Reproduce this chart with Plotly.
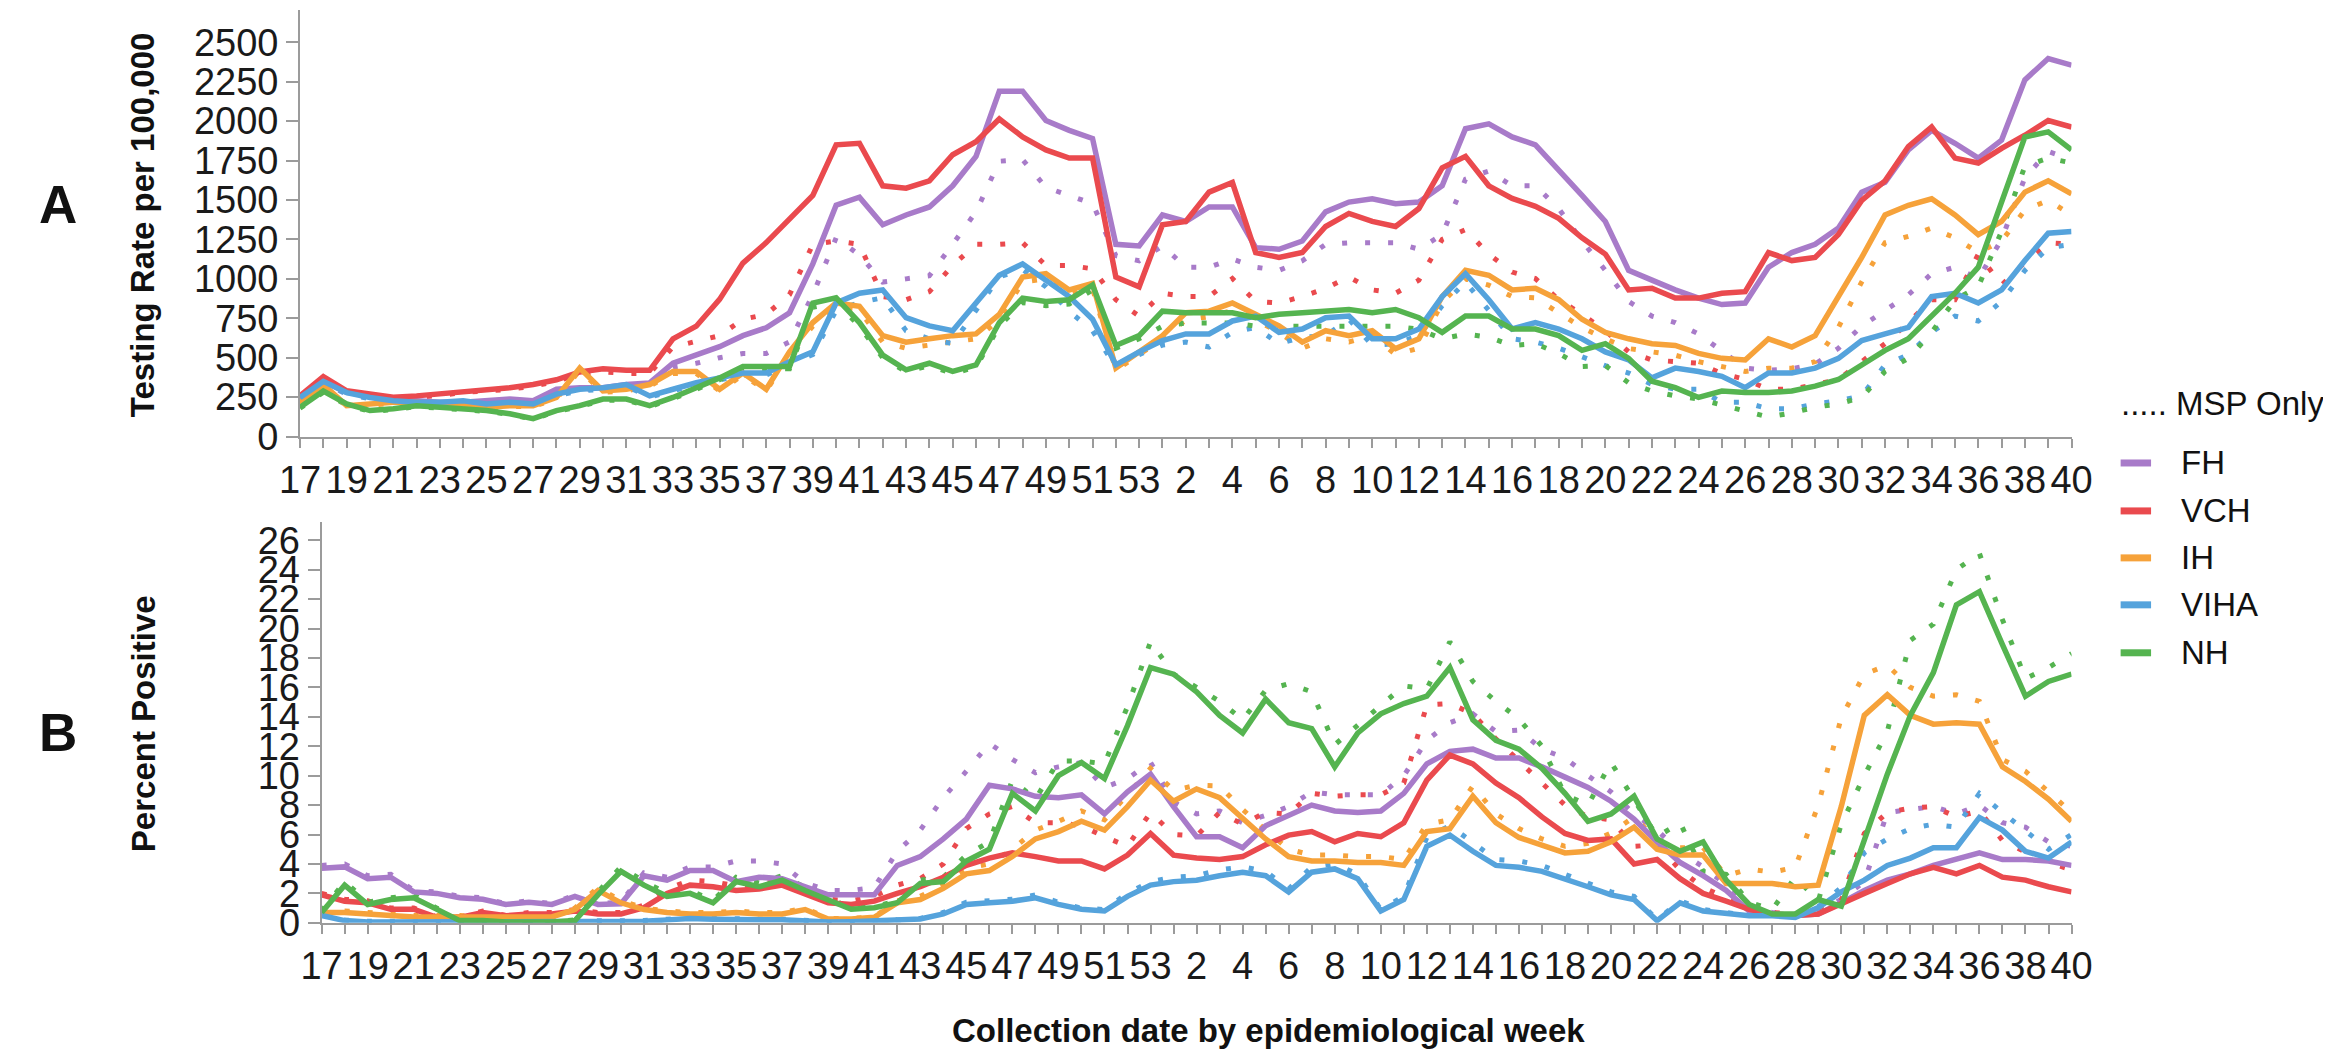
import plotly.graph_objects as go

# ---------------- data ----------------
weeks_2020 = list(range(17, 54))
weeks_2021 = list(range(1, 41))
weeks = weeks_2020 + weeks_2021
regions = ["FH", "VCH", "IH", "VIHA", "NH"]
region_colors = ["#A87BC9", "#EA4A4E", "#F6A23A", "#55A3DC", "#55B450"]

# Panel A: testing rate per 100,000 (all tests)
rate_FH = [238, 350, 280, 260, 238, 227, 217, 217, 227, 238,
           227, 300, 310, 310, 330, 340, 465, 515, 570, 640,
           690, 785, 1095, 1467, 1518, 1343, 1405, 1456, 1590, 1777,
           2190, 2190, 2004, 1942, 1890, 1219, 1209, 1405, 1364, 1456,
           1456, 1198, 1188, 1240, 1425, 1487, 1508, 1477, 1487, 1590,
           1952, 1983, 1900, 1850, 1694, 1529, 1364, 1054, 992, 930,
           878, 837, 847, 1074, 1167, 1219, 1322, 1550, 1612, 1818,
           1942, 1860, 1766, 1880, 2262, 2397, 2355]
rate_VCH = [258, 380, 290, 270, 250, 258, 270, 290, 300, 310,
            330, 360, 410, 430, 420, 420, 620, 700, 870, 1100,
            1230, 1384, 1529, 1850, 1860, 1590, 1575, 1622, 1787, 1870,
            2014, 1900, 1818, 1766, 1766, 1012, 950, 1343, 1364, 1550,
            1611, 1167, 1136, 1167, 1332, 1415, 1364, 1332, 1446, 1704,
            1777, 1590, 1510, 1460, 1384, 1260, 1157, 930, 940, 878,
            878, 909, 919, 1167, 1116, 1136, 1281, 1498, 1622, 1839,
            1963, 1766, 1735, 1828, 1911, 2004, 1963]
rate_IH = [217, 330, 196, 207, 217, 217, 207, 207, 186, 196,
           196, 248, 434, 289, 300, 330, 413, 413, 300, 403,
           300, 537, 723, 847, 826, 640, 599, 620, 640, 651,
           775, 1012, 1033, 930, 971, 434, 537, 640, 785, 795,
           847, 775, 702, 599, 671, 640, 671, 558, 620, 888,
           1054, 1023, 930, 940, 868, 744, 661, 620, 589, 578,
           527, 496, 486, 620, 568, 640, 888, 1136, 1405, 1467,
           1508, 1405, 1281, 1364, 1550, 1622, 1539]
rate_VIHA = [248, 350, 279, 248, 227, 217, 217, 227, 207, 217,
             207, 269, 300, 310, 330, 258, 300, 341, 372, 403,
             403, 475, 537, 847, 909, 930, 754, 702, 671, 847,
             1023, 1095, 992, 888, 744, 455, 537, 609, 651, 651,
             733, 764, 661, 682, 754, 764, 620, 620, 682, 888,
             1033, 868, 682, 723, 682, 620, 537, 486, 372, 434,
             413, 382, 310, 403, 403, 434, 496, 609, 651, 692,
             888, 909, 847, 930, 1116, 1290, 1300]
rate_NH = [186, 289, 207, 165, 176, 196, 186, 176, 165, 145,
           114, 165, 196, 238, 238, 196, 248, 310, 372, 444,
           444, 444, 847, 880, 723, 516, 423, 465, 413, 454,
           723, 878, 857, 868, 961, 578, 640, 795, 785, 785,
           785, 754, 775, 785, 795, 806, 785, 806, 754, 661,
           764, 764, 682, 682, 640, 547, 589, 496, 351, 310,
           248, 289, 279, 279, 289, 320, 362, 454, 547, 620,
           764, 909, 1074, 1488, 1900, 1932, 1818]

# Panel A: MSP only
rate_FH_msp = [230, 340, 270, 250, 230, 220, 210, 210, 220, 230,
               220, 290, 300, 300, 320, 320, 440, 465, 500, 527,
               527, 600, 900, 1260, 1150, 980, 1000, 1020, 1219, 1425,
               1746, 1756, 1580, 1529, 1477, 1147, 1115, 1209, 1074, 1074,
               1126, 1074, 1054, 1115, 1219, 1229, 1229, 1229, 1188, 1281,
               1632, 1684, 1590, 1590, 1446, 1240, 1054, 857, 764, 723,
               651, 547, 434, 420, 430, 460, 560, 700, 800, 899,
               1033, 1074, 1000, 1250, 1642, 1808, 1756]
rate_VCH_msp = [250, 370, 280, 260, 240, 250, 260, 280, 290, 300,
                320, 350, 400, 410, 400, 400, 568, 600, 640, 744,
                775, 900, 1219, 1240, 1219, 888, 868, 919, 1085, 1219,
                1219, 1229, 1085, 1085, 1064, 868, 764, 909, 888, 888,
                1002, 857, 847, 888, 940, 1012, 930, 909, 992, 1250,
                1312, 1157, 1043, 1002, 868, 775, 671, 537, 486, 475,
                465, 400, 362, 300, 300, 330, 362, 475, 589, 723,
                868, 868, 1157, 961, 1105, 1229, 1219]
rate_IH_msp = [210, 320, 190, 200, 210, 210, 200, 200, 180, 190,
               190, 240, 420, 280, 290, 320, 400, 400, 290, 390,
               290, 520, 700, 820, 800, 600, 560, 580, 600, 620,
               740, 980, 1000, 900, 940, 420, 520, 620, 740, 760,
               800, 740, 660, 560, 620, 600, 640, 520, 560, 850,
               1000, 960, 888, 880, 785, 692, 620, 558, 537, 516,
               475, 444, 413, 434, 434, 475, 692, 981, 1229, 1270,
               1322, 1260, 1167, 1240, 1436, 1498, 1405]
rate_VIHA_msp = [240, 340, 270, 240, 220, 210, 210, 220, 200, 210,
                 200, 260, 290, 300, 320, 250, 290, 330, 360, 390,
                 390, 460, 520, 800, 850, 880, 671, 620, 589, 800,
                 1012, 1060, 950, 795, 671, 440, 520, 580, 599, 568,
                 661, 692, 589, 630, 640, 744, 578, 589, 640, 830,
                 980, 800, 620, 599, 560, 506, 450, 403, 330, 300,
                 300, 217, 217, 176, 176, 207, 227, 258, 454, 520,
                 661, 764, 733, 857, 1054, 1198, 1219]
rate_NH_msp = [180, 280, 200, 160, 170, 190, 180, 170, 160, 140,
               110, 160, 190, 230, 230, 190, 240, 300, 360, 430,
               430, 430, 820, 850, 700, 500, 410, 450, 400, 440,
               700, 850, 830, 840, 930, 560, 620, 700, 720, 720,
               720, 700, 700, 700, 700, 700, 700, 700, 680, 620,
               651, 630, 578, 589, 527, 444, 450, 341, 289, 258,
               238, 200, 155, 124, 150, 186, 207, 248, 413, 496,
               661, 868, 950, 1302, 1715, 1766, 1735]

# Panel B: percent positive (all tests)
pos_FH = [3.7, 3.8, 3.0, 3.1, 2.1, 2.0, 1.7, 1.6, 1.25, 1.4,
          1.25, 1.8, 1.25, 1.3, 3.2, 2.9, 3.55, 3.55, 2.8, 3.1,
          3.0, 2.45, 1.9, 1.9, 1.9, 3.9, 4.5, 5.7, 7.05, 9.35,
          9.1, 8.6, 8.5, 8.7, 7.4, 8.9, 10.1, 7.9, 5.85, 5.85,
          5.1, 6.6, 7.3, 8.0, 7.6, 7.5, 7.6, 8.8, 10.8, 11.65,
          11.8, 11.2, 11.2, 10.6, 9.9, 9.2, 8.26, 7.05, 5.5, 4.1,
          3.2, 2.2, 0.8, 0.6, 0.5, 0.6, 1.36, 2.2, 2.9, 3.33,
          3.9, 4.3, 4.75, 4.3, 4.3, 4.2, 3.9]
pos_VCH = [1.9, 1.47, 1.36, 0.92, 0.92, 0.37, 0.37, 0.7, 0.48, 0.6,
           0.6, 0.8, 0.6, 0.6, 1.03, 2.0, 2.56, 2.45, 2.2, 2.3,
           2.56, 2.0, 1.36, 1.25, 1.47, 2.0, 2.45, 3.1, 3.9, 4.4,
           4.75, 4.5, 4.2, 4.2, 3.66, 4.6, 6.07, 4.6, 4.4, 4.3,
           4.5, 5.3, 5.96, 6.2, 5.5, 6.07, 5.85, 6.8, 9.7, 11.4,
           10.8, 9.5, 8.5, 7.2, 6.07, 5.6, 5.7, 4.0, 4.3, 3.0,
           2.0, 1.47, 0.92, 0.6, 0.5, 0.6, 1.25, 2.0, 2.67, 3.33,
           3.77, 3.33, 3.9, 3.1, 2.9, 2.45, 2.1]
pos_IH = [0.7, 0.7, 0.6, 0.5, 0.4, 0.4, 0.4, 0.35, 0.4, 0.35,
          0.4, 0.9, 2.2, 1.36, 0.9, 0.7, 0.6, 0.6, 0.7, 0.6,
          0.6, 0.9, 0.26, 0.26, 0.37, 1.36, 1.58, 2.34, 3.33, 3.55,
          4.5, 5.7, 6.2, 6.9, 6.3, 7.9, 9.7, 8.26, 9.1, 8.5,
          7.05, 5.7, 4.5, 4.2, 4.2, 4.1, 4.1, 3.9, 6.2, 6.4,
          8.6, 6.8, 5.8, 5.3, 4.75, 4.86, 5.5, 6.5, 5.0, 4.6,
          4.6, 2.67, 2.67, 2.67, 2.45, 2.56, 7.9, 14.1, 15.5, 14.1,
          13.5, 13.6, 13.5, 10.6, 9.6, 8.4, 6.9]
pos_VIHA = [0.5, 0.15, 0.05, 0.05, 0.05, 0.05, 0.05, 0.05, 0.05, 0.05,
            0.05, 0.05, 0.05, 0.05, 0.1, 0.2, 0.3, 0.25, 0.2, 0.2,
            0.2, 0.1, 0.05, 0.08, 0.15, 0.15, 0.26, 0.6, 1.25, 1.36,
            1.47, 1.7, 1.25, 0.92, 0.8, 1.8, 2.56, 2.8, 2.9, 3.2,
            3.44, 3.2, 2.1, 3.44, 3.66, 3.0, 0.8, 1.58, 5.2, 5.96,
            4.86, 3.9, 3.77, 3.5, 3.0, 2.45, 1.9, 1.58, 0.15, 1.36,
            0.8, 0.6, 0.48, 0.48, 0.37, 1.03, 2.1, 2.9, 3.9, 4.4,
            5.1, 5.1, 7.16, 6.3, 4.86, 4.4, 5.5]
pos_NH = [0.7, 2.56, 1.25, 1.58, 1.7, 0.92, 0.15, 0.15, 0.05, 0.05,
          0.05, 0.15, 1.9, 3.5, 2.56, 1.8, 2.0, 1.36, 2.8, 2.45,
          2.9, 2.2, 1.58, 0.92, 1.03, 1.36, 2.67, 2.8, 4.2, 5.0,
          8.8, 7.6, 10.0, 10.9, 9.8, 13.4, 17.35, 16.9, 15.7, 14.1,
          12.9, 15.2, 13.6, 13.2, 10.6, 12.9, 14.2, 14.9, 15.4, 17.35,
          13.8, 12.4, 11.8, 10.5, 8.8, 6.9, 7.4, 8.6, 5.7, 4.86,
          5.5, 2.9, 1.25, 0.6, 0.6, 1.58, 1.14, 5.7, 10.1, 14.1,
          17.0, 21.6, 22.5, 18.9, 15.4, 16.4, 16.9]

# Panel B: MSP only
pos_FH_msp = [3.9, 4.0, 3.2, 3.3, 2.2, 2.1, 1.8, 1.7, 1.3, 1.5,
              1.3, 1.9, 1.3, 1.4, 3.4, 3.1, 3.8, 3.8, 4.2, 4.2,
              4.0, 2.7, 2.2, 2.2, 2.4, 4.86, 6.3, 8.5, 10.3, 12.2,
              11.1, 10.2, 10.6, 10.9, 9.2, 9.8, 10.9, 8.2, 7.4, 7.6,
              6.8, 7.3, 7.9, 8.9, 8.7, 8.7, 8.7, 10.0, 12.4, 13.6,
              14.2, 13.0, 13.1, 11.8, 11.2, 10.0, 8.9, 7.4, 6.3, 4.8,
              3.8, 2.6, 1.0, 0.7, 0.6, 0.7, 1.6, 2.8, 7.5, 7.7,
              7.9, 7.4, 8.0, 6.8, 6.5, 5.5, 5.2]
pos_VCH_msp = [2.0, 1.6, 1.5, 1.0, 1.0, 0.4, 0.4, 0.8, 0.5, 0.7,
               0.7, 0.9, 0.7, 0.7, 1.2, 2.3, 2.9, 2.8, 2.5, 2.6,
               2.9, 2.2, 1.6, 1.5, 1.8, 2.56, 3.0, 4.0, 6.4, 7.4,
               7.9, 6.8, 6.8, 6.6, 5.85, 5.2, 7.5, 6.0, 5.9, 7.5,
               6.7, 7.5, 7.4, 8.8, 8.6, 8.7, 8.7, 9.5, 14.8, 14.9,
               14.2, 12.5, 11.0, 9.5, 8.0, 7.2, 7.0, 5.2, 5.3, 3.6,
               2.4, 1.7, 1.0, 0.7, 0.6, 0.7, 1.5, 6.07, 7.5, 7.8,
               7.9, 7.2, 7.6, 5.6, 4.8, 4.1, 3.6]
pos_IH_msp = [0.8, 0.8, 0.7, 0.6, 0.5, 0.5, 0.5, 0.4, 0.5, 0.4,
              0.5, 1.0, 2.4, 1.5, 1.0, 0.8, 0.7, 0.7, 0.8, 0.7,
              0.7, 1.0, 0.3, 0.3, 0.4, 1.5, 1.8, 2.6, 3.7, 4.0,
              5.0, 6.3, 6.9, 7.6, 7.0, 8.7, 10.5, 9.0, 9.35, 9.3,
              7.7, 6.3, 5.0, 4.6, 4.6, 4.5, 4.5, 4.3, 6.7, 7.0,
              9.3, 7.4, 6.4, 5.7, 5.2, 5.4, 6.1, 7.2, 5.6, 5.1,
              5.1, 3.2, 3.66, 3.44, 3.77, 8.0, 13.95, 16.9, 17.5, 16.0,
              15.4, 15.5, 15.05, 11.1, 10.3, 8.9, 7.5]
pos_VIHA_msp = [0.6, 0.2, 0.1, 0.1, 0.1, 0.1, 0.1, 0.1, 0.1, 0.1,
                0.1, 0.1, 0.1, 0.1, 0.15, 0.25, 0.35, 0.3, 0.25, 0.25,
                0.25, 0.15, 0.1, 0.1, 0.2, 0.2, 0.3, 0.7, 1.4, 1.5,
                1.6, 1.9, 1.4, 1.0, 0.9, 2.0, 2.8, 3.1, 3.2, 3.6,
                3.8, 3.5, 2.3, 3.8, 4.0, 3.3, 0.9, 1.8, 5.8, 6.6,
                5.4, 4.3, 4.2, 3.9, 3.3, 2.7, 2.1, 1.8, 0.2, 1.5,
                0.9, 0.7, 0.5, 0.5, 0.4, 1.1, 2.4, 4.75, 5.7, 6.4,
                6.7, 6.5, 8.8, 7.5, 6.2, 5.0, 6.0]
pos_NH_msp = [0.8, 2.8, 1.4, 1.7, 1.9, 1.0, 0.2, 0.2, 0.05, 0.05,
              0.05, 0.2, 2.1, 3.8, 2.8, 2.0, 2.2, 1.5, 3.1, 2.7,
              3.2, 2.4, 1.7, 1.0, 1.1, 1.5, 2.9, 3.1, 4.6, 5.5,
              9.7, 8.4, 11.0, 11.0, 10.8, 14.7, 19.1, 16.9, 16.0, 15.05,
              13.8, 15.8, 16.25, 15.7, 12.1, 13.4, 14.7, 16.1, 15.9, 19.1,
              16.4, 15.05, 13.85, 12.0, 8.7, 8.0, 10.9, 8.4, 5.85, 6.8,
              3.5, 3.3, 1.4, 0.9, 3.1, 1.5, 6.7, 10.0, 13.0, 19.2,
              20.3, 24.0, 25.1, 20.6, 16.6, 17.35, 18.3]

rate_ticks = list(range(0, 2501, 250))
pos_ticks = list(range(0, 27, 2))

# ---------------- figure ----------------
W, H = 2331, 1063
FONT = "Liberation Sans, Arial, Helvetica, sans-serif"
AXIS_GRAY = "#9b9b9b"

def px(x):
    return x / W

def py(y):
    return 1 - y / H

xpos = list(range(len(weeks)))
tick_text = [str(w) if i % 2 == 0 else "" for i, w in enumerate(weeks)]

rate_all = [rate_FH, rate_VCH, rate_IH, rate_VIHA, rate_NH]
rate_msp = [rate_FH_msp, rate_VCH_msp, rate_IH_msp, rate_VIHA_msp, rate_NH_msp]
pos_all = [pos_FH, pos_VCH, pos_IH, pos_VIHA, pos_NH]
pos_msp = [pos_FH_msp, pos_VCH_msp, pos_IH_msp, pos_VIHA_msp, pos_NH_msp]

for arr in rate_all + rate_msp + pos_all + pos_msp:
    assert len(arr) == len(weeks), len(arr)

fig = go.Figure()

# dotted MSP-only series underneath
for name, col, a, b in zip(regions, region_colors, rate_msp, pos_msp):
    fig.add_trace(go.Scatter(x=xpos, y=a, mode="lines", name=name + " (MSP only)",
                             line=dict(color=col, width=5, dash="5px,18px"),
                             xaxis="x", yaxis="y", showlegend=False, hoverinfo="skip"))
    fig.add_trace(go.Scatter(x=xpos, y=b, mode="lines", name=name + " (MSP only)",
                             line=dict(color=col, width=5, dash="5px,18px"),
                             xaxis="x2", yaxis="y2", showlegend=False, hoverinfo="skip"))

# solid all-tests series
for name, col, a, b in zip(regions, region_colors, rate_all, pos_all):
    fig.add_trace(go.Scatter(x=xpos, y=a, mode="lines", name=name,
                             line=dict(color=col, width=5.5),
                             xaxis="x", yaxis="y", showlegend=False))
    fig.add_trace(go.Scatter(x=xpos, y=b, mode="lines", name=name,
                             line=dict(color=col, width=5.5),
                             xaxis="x2", yaxis="y2", showlegend=False))

xcommon = dict(range=[0, len(weeks) - 1], tickmode="array", tickvals=xpos, ticktext=tick_text,
               ticks="outside", ticklen=9, tickwidth=1.5, tickcolor=AXIS_GRAY,
               showline=True, linecolor=AXIS_GRAY, linewidth=2, showgrid=False,
               zeroline=False, tickangle=0, tickfont=dict(size=38, color="#1a1a1a"),
               fixedrange=True)
ycommon = dict(ticks="outside", ticklen=12, tickwidth=1.5, tickcolor=AXIS_GRAY,
               showline=True, linecolor=AXIS_GRAY, linewidth=2, showgrid=False,
               zeroline=False, tickfont=dict(size=38, color="#1a1a1a"), fixedrange=True)

fig.update_layout(
    width=W, height=H, margin=dict(l=0, r=0, t=0, b=0),
    paper_bgcolor="white", plot_bgcolor="white", showlegend=False,
    font=dict(family=FONT, size=38, color="#1a1a1a"),
    xaxis=dict(domain=[px(276), px(2080)], anchor="y", **xcommon),
    yaxis=dict(domain=[py(436), 1.0], anchor="x", range=[0, 2705],
               tickmode="array", tickvals=rate_ticks, ticktext=[str(v) for v in rate_ticks], **ycommon),
    xaxis2=dict(domain=[px(298), px(2080)], anchor="y2", **xcommon),
    yaxis2=dict(domain=[py(933), py(523)], anchor="x2", range=[0, 27.26],
                tickmode="array", tickvals=pos_ticks, ticktext=[str(v) for v in pos_ticks], **ycommon),
)

ann = []
# panel letters
ann.append(dict(text="<b>A</b>", x=px(30), y=py(199), font=dict(size=53, color="#111")))
ann.append(dict(text="<b>B</b>", x=px(30), y=py(738), font=dict(size=53, color="#111")))
# axis titles
ann.append(dict(text="<b>Testing Rate per 100,000</b>", x=px(115), y=py(219), textangle=-90,
                font=dict(size=33, color="#111")))
ann.append(dict(text="<b>Percent Positive</b>", x=px(116), y=py(729), textangle=-90,
                font=dict(size=33, color="#111")))
ann.append(dict(text="<b>Collection date by epidemiological week</b>", x=px(1262), y=py(1043),
                font=dict(size=33, color="#111")))
# legend
ann.append(dict(text="..... MSP Only", x=px(2128), y=py(402), xanchor="left",
                font=dict(size=33, color="#111")))
legend_rows = [463, 512, 560, 608, 657]
shapes = []
for name, col, ry in zip(regions, region_colors, legend_rows):
    shapes.append(dict(type="line", xref="paper", yref="paper", x0=px(2130), x1=px(2161),
                       y0=py(ry), y1=py(ry), line=dict(color=col, width=7)))
    ann.append(dict(text=name, x=px(2189), y=py(ry), xanchor="left",
                    font=dict(size=33, color="#111")))
for a in ann:
    a.setdefault("xref", "paper")
    a.setdefault("yref", "paper")
    a.setdefault("showarrow", False)
    a.setdefault("xanchor", "center")
    a.setdefault("yanchor", "middle")
fig.update_layout(annotations=ann, shapes=shapes)

fig.write_html("out.html")
